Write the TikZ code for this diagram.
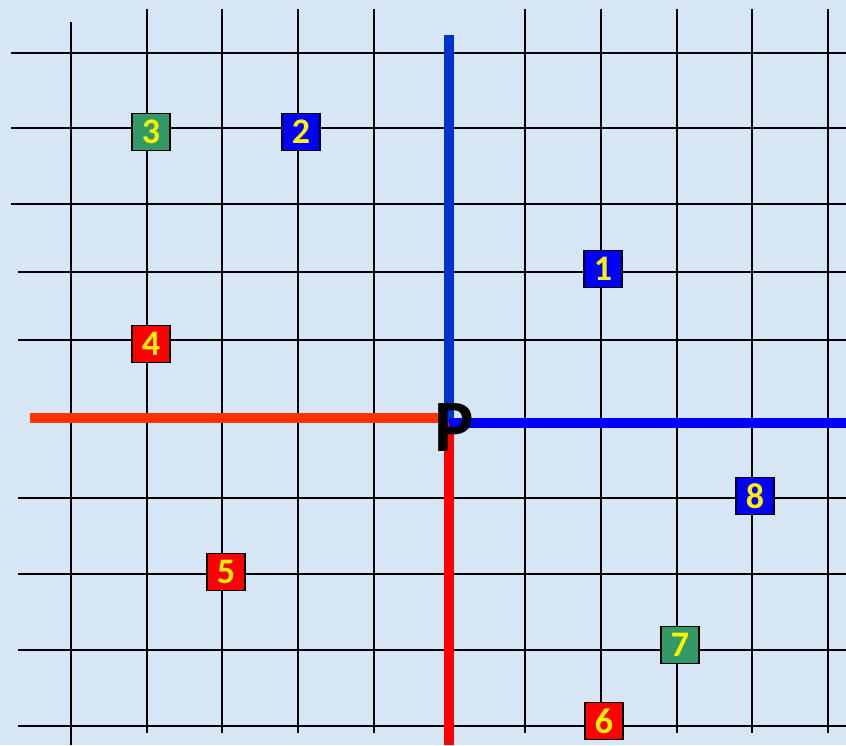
\documentclass[tikz,border=0pt]{standalone}
\usepackage{fontspec}
\newfontfamily\boxfont{Carlito}
\definecolor{bgblue}{RGB}{214,230,245}
\definecolor{boxgreen}{RGB}{51,153,102}
\definecolor{lineblue}{RGB}{0,51,204}
\definecolor{linered}{RGB}{255,51,0}
\tikzset{
  gridline/.style={black,line width=1.6pt},
  axisline/.style={line width=10pt},
  numbox/.style={draw=black,line width=1.5pt,minimum width=38pt,minimum height=37pt,inner sep=0pt,
    text=yellow,font=\boxfont\bfseries\fontsize{36}{36}\selectfont}
}
\begin{document}
\begin{tikzpicture}[x=1pt,y=-1pt]
\fill[bgblue] (0,0) rectangle (846,745);
\useasboundingbox (0,0) rectangle (846,745);
% horizontal grid lines
\foreach \y in {53,128,204} \draw[gridline] (11,\y) -- (846,\y);
\foreach \y in {272,340,498,574,650,726} \draw[gridline] (18,\y) -- (846,\y);
% vertical grid lines
\draw[gridline] (71,22) -- (71,745);
\foreach \x in {147,222,298,374,525,601,677,752,828} \draw[gridline] (\x,9) -- (\x,733);
% axes
\coordinate (P) at (449,420);
\coordinate (top) at (449,35);
\coordinate (left) at (30,418);
\coordinate (right) at (846,423);
\coordinate (bottom) at (449,745);
\draw[axisline,linered] (left) -- (449,418);
\draw[axisline,red] (449,420) -- (bottom);
\draw[axisline,lineblue] (top) -- (449,423);
\draw[axisline,blue] (449,423) -- (right);
\node[font=\boxfont\bfseries\fontsize{74}{74}\selectfont,inner sep=0pt] (plabel) at (454,427) {P};
% numbered boxes
\node[numbox,fill=blue] (b1) at (603,269) {1};
\node[numbox,fill=blue] (b2) at (301,132) {2};
\node[numbox,fill=boxgreen] (b3) at (151,132) {3};
\node[numbox,fill=red] (b4) at (151,344) {4};
\node[numbox,fill=red] (b5) at (226,572) {5};
\node[numbox,fill=red] (b6) at (604,721) {6};
\node[numbox,fill=boxgreen] (b7) at (680,645) {7};
\node[numbox,fill=blue] (b8) at (755,496) {8};
\end{tikzpicture}
\end{document}
